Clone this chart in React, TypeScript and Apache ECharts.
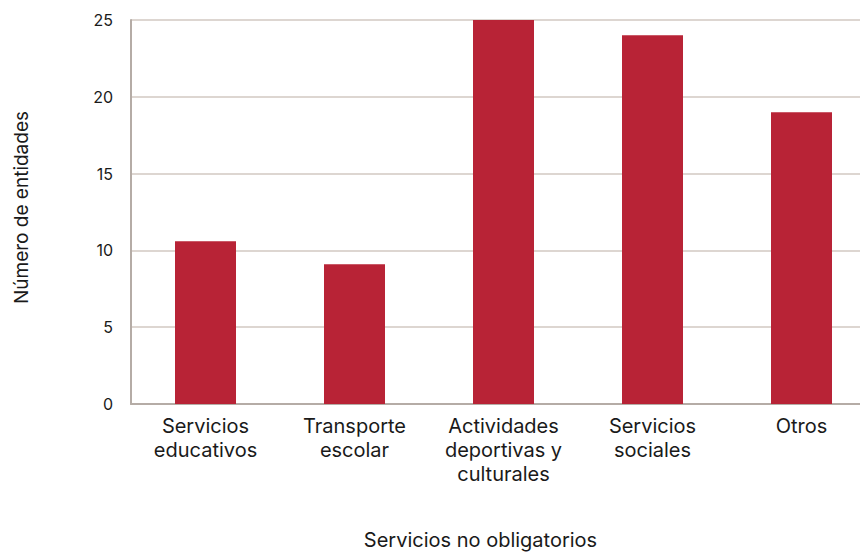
import React, { useEffect, useRef } from "react";
import * as echarts from "echarts";

const categories = [
  "Servicios\neducativos",
  "Transporte\nescolar",
  "Actividades\ndeportivas y\nculturales",
  "Servicios\nsociales",
  "Otros",
];
const values = [10.6, 9.1, 25, 24, 19];
const yTicks = { min: 0, max: 25, interval: 5 };
const yName = "Número de entidades";
const xName = "Servicios no obligatorios";

const FONT = "Inter, Liberation Sans, Arial, sans-serif";

export default function App() {
  const ref = useRef<HTMLDivElement>(null);
  useEffect(() => {
    document.body.style.margin = "0";
    const chart = echarts.init(ref.current!, null, { renderer: "svg" });
    chart.setOption({
      animation: false,
      backgroundColor: "#ffffff",
      grid: { left: 131, right: -16, top: 20, bottom: 149, outerBoundsMode: "none", containLabel: false },
      xAxis: {
        type: "category",
        data: categories,
        name: xName,
        nameLocation: "middle",
        nameGap: 126,
        nameTextStyle: { fontFamily: FONT, fontSize: 20, color: "#1a1a1a", padding: [0, 46, 0, 0] },
        axisLine: { lineStyle: { color: "#b5aca6", width: 2 } },
        axisTick: { show: false },
        axisLabel: {
          fontFamily: FONT,
          fontSize: 20,
          color: "#1a1a1a",
          lineHeight: 24,
          margin: 10,
          verticalAlign: "top",
          interval: 0,
        },
      },
      yAxis: {
        type: "value",
        min: yTicks.min,
        max: yTicks.max,
        interval: yTicks.interval,
        name: yName,
        nameLocation: "middle",
        nameGap: 100,
        nameTextStyle: { fontFamily: FONT, fontSize: 19, color: "#1a1a1a", padding: [0, 0, 0, 9] },
        axisLine: { show: true, lineStyle: { color: "#b5aca6", width: 2 } },
        axisTick: { show: false },
        axisLabel: { fontFamily: FONT, fontSize: 16, color: "#1a1a1a", margin: 18 },
        splitLine: { lineStyle: { color: "#ddd6d1", width: 2 } },
      },
      series: [
        {
          type: "bar",
          data: values,
          barWidth: 61,
          itemStyle: { color: "#b82336" },
        },
      ],
    });
    return () => chart.dispose();
  }, []);
  return <div ref={ref} style={{ width: 860, height: 553 }} />;
}
